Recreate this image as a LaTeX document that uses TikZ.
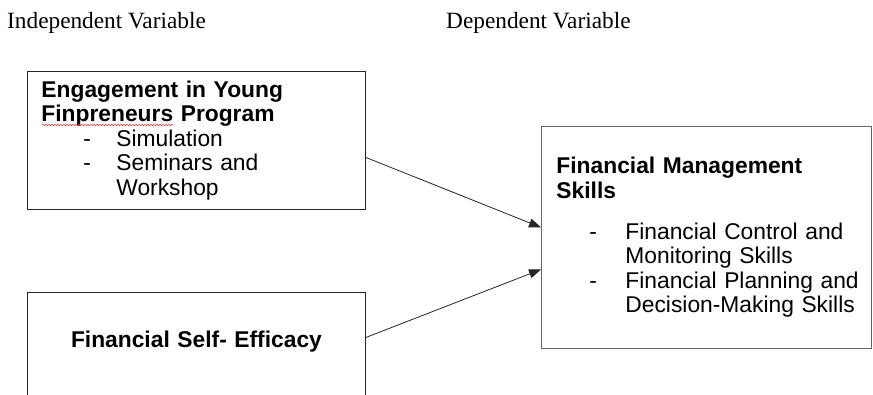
\documentclass[tikz,border=0pt]{standalone}
\usepackage{fontspec}
\setmainfont{Liberation Sans}
\newfontfamily\capfont{Liberation Serif}
\usetikzlibrary{positioning,arrows.meta,decorations.pathmorphing}

\begin{document}
\begin{tikzpicture}[
    x=1pt,y=-1pt,
    >={Triangle[length=12pt,width=9pt]},
    var/.style={draw=black!85,line width=0.9pt,align=left,anchor=north west,
      inner xsep=14pt,inner ysep=0pt,
      font=\fontsize{22.8}{24.6}\selectfont},
    caption/.style={font=\capfont\fontsize{23.3}{26}\selectfont,
      inner sep=0pt,anchor=base west},
    flow/.style={draw=black!85,line width=0.8pt,->}
  ]
  \useasboundingbox (0,0) rectangle (873,394);
  \clip (0,0) rectangle (873,394);

  % column captions
  \node[caption] (indep) at (7,28.5) {Independent Variable};
  \node[caption] (dep) at (446,28.5) {Dependent Variable};

  % independent variables
  \node[var,text width=310pt,minimum height=138pt] (yfp) at (27,71)
    {\textbf{Engagement in Young}\\
     \textbf{Finpreneurs Program}\\
     \hspace*{42pt}\makebox[33pt][l]{-}Simulation\\
     \hspace*{42pt}\makebox[33pt][l]{-}Seminars and\\
     \hspace*{75pt}Workshop};
  \draw[red!80,line width=0.5pt,decorate,
    decoration={snake,amplitude=0.8pt,segment length=3pt}]
    (42,125) -- (173,125);

  \node[var,align=center,text width=310pt,text height=55pt,text depth=63pt]
    (fse) at (27,292) {\textbf{Financial Self- Efficacy}};

  % dependent variable
  \node[var,draw=black!60,text width=300pt,inner xsep=15pt,minimum height=222pt]
    (fms) at (541,126)
    {\textbf{Financial Management}\\
     \textbf{Skills}\\[16pt]
     \mbox{\hspace*{33pt}\makebox[36pt][l]{-}Financial Control and}\\
     \hspace*{69pt}Monitoring Skills\\
     \mbox{\hspace*{33pt}\makebox[36pt][l]{-}Financial Planning and}\\
     \hspace*{69pt}Decision-Making Skills};

  \draw[flow] ([yshift=-17pt]yfp.east) -- ([yshift=10pt]fms.west);
  \draw[flow] ([yshift=14pt]fse.east) -- ([yshift=-32pt]fms.west);
\end{tikzpicture}
\end{document}
